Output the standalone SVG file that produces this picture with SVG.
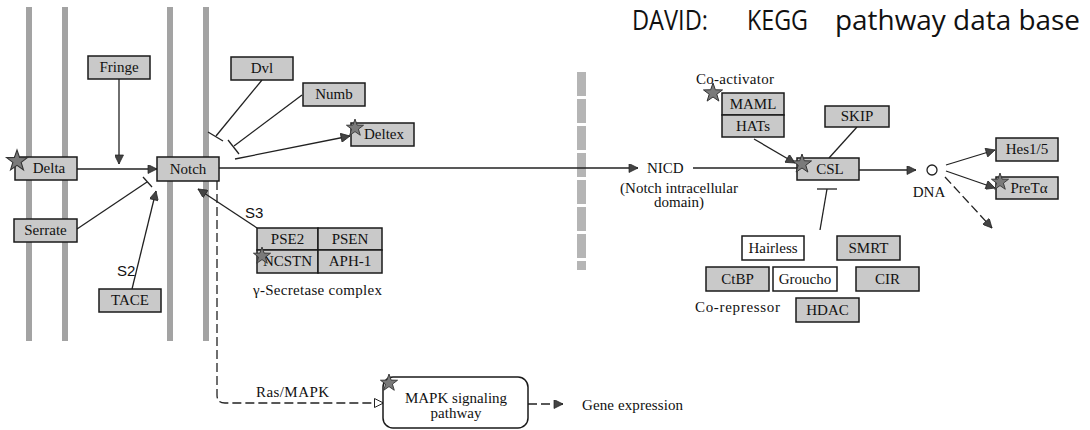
<svg xmlns="http://www.w3.org/2000/svg" width="1090" height="430" viewBox="0 0 1090 430">
  <defs>
    <style>
      .bar { fill: #a3a3a3; }
      .box { fill: #c9c9c9; stroke: #1a1a1a; stroke-width: 1.5; }
      .wbox { fill: #ffffff; stroke: #1a1a1a; stroke-width: 1.5; }
      .lbl { font-family: "Liberation Serif", serif; font-size: 15px; fill: #111; text-anchor: middle; }
      .txt { font-family: "Liberation Serif", serif; font-size: 15px; fill: #111; }
      .sans { font-family: "Liberation Sans", sans-serif; font-size: 15px; fill: #111; }
      .title { font-family: "Open Sans", "Noto Sans", sans-serif; font-size: 27px; fill: #111; }
      .ln { fill: none; stroke: #222; stroke-width: 1.3; }
      .dash { fill: none; stroke: #222; stroke-width: 1.3; stroke-dasharray: 9 4; }
      .star { fill: #7a7a7a; stroke: #333; stroke-width: 1; }
    </style>
    <marker id="arr" viewBox="0 0 10 10" refX="10" refY="5" markerWidth="11" markerHeight="9" markerUnits="userSpaceOnUse" orient="auto">
      <path d="M0,0 L10,5 L0,10 Z" fill="#444" stroke="#222" stroke-width="0.8"/>
    </marker>
    <marker id="open" viewBox="0 0 10 10" refX="10" refY="5" markerWidth="11" markerHeight="10" markerUnits="userSpaceOnUse" orient="auto">
      <path d="M0.5,0.5 L9.5,5 L0.5,9.5 Z" fill="#fff" stroke="#222" stroke-width="1"/>
    </marker>
    <path id="star" d="M0,-10 L2.35,-3.24 L9.51,-3.09 L3.8,1.24 L5.88,8.09 L0,4 L-5.88,8.09 L-3.8,1.24 L-9.51,-3.09 L-2.35,-3.24 Z"/>
  </defs>

  <rect width="1090" height="430" fill="#ffffff"/>

  <!-- membranes -->
  <g id="membranes">
    <rect class="bar" x="26" y="7" width="6" height="334"/>
    <rect class="bar" x="62" y="7" width="6" height="334"/>
    <rect class="bar" x="167" y="7" width="6" height="334"/>
    <rect class="bar" x="203" y="7" width="6" height="334"/>
    <line x1="581.5" y1="72" x2="581.5" y2="270" stroke="#b5b5b5" stroke-width="9" stroke-dasharray="24 3"/>
  </g>

  <!-- title -->
  <text class="title" x="632" y="30" textLength="76" lengthAdjust="spacingAndGlyphs">DAVID:</text>
  <text class="title" x="747" y="30" textLength="61" lengthAdjust="spacingAndGlyphs">KEGG</text>
  <text class="title" x="835" y="30" textLength="245" lengthAdjust="spacingAndGlyphs">pathway data base</text>

  <!-- connectors -->
  <g id="connectors">
    <line class="ln" x1="77" y1="169" x2="157" y2="169" marker-end="url(#arr)"/>
    <line class="ln" x1="119" y1="79" x2="119" y2="164" marker-end="url(#arr)"/>
    <line class="ln" x1="77" y1="229" x2="147" y2="182"/>
    <line class="ln" x1="143" y1="177" x2="152" y2="187"/>
    <line class="ln" x1="132" y1="289" x2="156" y2="191" marker-end="url(#arr)"/>
    <line class="ln" x1="262" y1="80" x2="216" y2="136"/>
    <line class="ln" x1="208" y1="132" x2="223" y2="141"/>
    <line class="ln" x1="302" y1="95" x2="234" y2="146"/>
    <line class="ln" x1="228" y1="140" x2="239" y2="154"/>
    <line class="ln" x1="235" y1="159" x2="350" y2="136" marker-end="url(#arr)"/>
    <line class="ln" x1="219" y1="168" x2="638" y2="168" marker-end="url(#arr)"/>
    <line class="ln" x1="257" y1="228" x2="198" y2="189" marker-end="url(#arr)"/>
    <path class="dash" d="M217,181 L217,395 Q217,403 225,403 L384,403" marker-end="url(#open)"/>
    <line class="ln" x1="693" y1="168" x2="797" y2="168"/>
    <line class="ln" x1="754" y1="139" x2="795" y2="163" marker-end="url(#arr)"/>
    <line class="ln" x1="857" y1="127" x2="829" y2="158"/>
    <line class="ln" x1="859" y1="170" x2="916" y2="170" marker-end="url(#arr)"/>
    <line class="ln" x1="946" y1="165" x2="995" y2="150" marker-end="url(#arr)"/>
    <line class="ln" x1="946" y1="171" x2="995" y2="188" marker-end="url(#arr)"/>
    <line class="dash" x1="945" y1="177" x2="992" y2="228" marker-end="url(#arr)"/>
    <line class="ln" x1="820" y1="230" x2="827" y2="189"/>
    <line class="ln" x1="817" y1="189" x2="837" y2="189"/>
    <line class="dash" x1="528" y1="404" x2="563" y2="404" marker-end="url(#arr)"/>
  </g>

  <!-- receptor side -->
  <g id="fringe"><rect class="box" x="88" y="56" width="62" height="23"/><text class="lbl" x="119" y="72">Fringe</text></g>
  <g id="delta"><rect class="box" x="15" y="157" width="62" height="23"/><text class="lbl" x="49" y="173">Delta</text><use href="#star" class="star" transform="translate(17,161) scale(1.1)"/></g>
  <g id="notch"><rect class="box" x="157" y="157" width="62" height="24"/><text class="lbl" x="188" y="174">Notch</text></g>
  <g id="serrate"><rect class="box" x="14" y="219" width="63" height="23"/><text class="lbl" x="45.5" y="235">Serrate</text></g>
  <g id="tace"><rect class="box" x="99" y="289" width="62" height="23"/><text class="lbl" x="130" y="305">TACE</text></g>
  <g id="dvl"><rect class="box" x="231" y="57" width="62" height="23"/><text class="lbl" x="262" y="73">Dvl</text></g>
  <g id="numb"><rect class="box" x="303" y="83" width="62" height="23"/><text class="lbl" x="334" y="99">Numb</text></g>
  <g id="deltex"><rect class="box" x="351" y="123" width="63" height="23"/><text class="lbl" x="384" y="139">Deltex</text><use href="#star" class="star" transform="translate(355,128) scale(0.9)"/></g>

  <!-- gamma-secretase complex -->
  <g id="secretase">
    <rect class="box" x="257" y="228" width="61" height="22"/><text class="lbl" x="287.5" y="244">PSE2</text>
    <rect class="box" x="318" y="228" width="64" height="22"/><text class="lbl" x="350" y="244">PSEN</text>
    <rect class="box" x="257" y="250" width="61" height="23"/><text class="lbl" x="287.5" y="266">NCSTN</text>
    <rect class="box" x="318" y="250" width="64" height="23"/><text class="lbl" x="350" y="266">APH-1</text>
    <use href="#star" class="star" transform="translate(262,256) scale(0.9)"/>
    <text class="txt" x="253" y="295" textLength="129">γ-Secretase complex</text>
  </g>

  <text class="sans" x="117" y="276">S2</text>
  <text class="sans" x="245" y="218">S3</text>
  <text class="txt" x="256" y="397" textLength="73">Ras/MAPK</text>

  <!-- MAPK pathway -->
  <g id="mapk">
    <rect class="wbox" x="383" y="377" width="145" height="51" rx="10"/>
    <text class="lbl" x="456" y="403">MAPK signaling</text>
    <text class="lbl" x="456" y="418">pathway</text>
    <use href="#star" class="star" transform="translate(389,383) scale(0.9)"/>
  </g>
  <text class="txt" x="582" y="410" textLength="101">Gene expression</text>

  <!-- nucleus side -->
  <g id="nicd">
    <text class="txt" x="647" y="173">NICD</text>
    <text class="lbl" x="679" y="193">(Notch intracellular</text>
    <text class="lbl" x="679" y="207">domain)</text>
  </g>
  <g id="coactivator">
    <text class="txt" x="696" y="84" textLength="78">Co-activator</text>
    <rect class="box" x="722" y="93" width="62" height="22"/><text class="lbl" x="753" y="109">MAML</text>
    <rect class="box" x="722" y="115" width="62" height="22"/><text class="lbl" x="753" y="131">HATs</text>
    <use href="#star" class="star" transform="translate(713,93)"/>
  </g>
  <g id="skip"><rect class="box" x="825" y="106" width="64" height="21"/><text class="lbl" x="857" y="121">SKIP</text></g>
  <g id="csl"><rect class="box" x="797" y="158" width="62" height="22"/><text class="lbl" x="830" y="174">CSL</text><use href="#star" class="star" transform="translate(802,164)"/></g>
  <g id="dna"><circle cx="932" cy="170" r="5" fill="#fff" stroke="#222" stroke-width="1.3"/><text class="lbl" x="929" y="197">DNA</text></g>
  <g id="hes"><rect class="box" x="996" y="138" width="62" height="23"/><text class="lbl" x="1027" y="154">Hes1/5</text></g>
  <g id="pret"><rect class="box" x="996" y="177" width="62" height="22"/><text class="lbl" x="1029" y="193">PreTα</text><use href="#star" class="star" transform="translate(1000,182) scale(0.9)"/></g>

  <!-- co-repressor complex -->
  <g id="corepressor">
    <rect class="wbox" x="742" y="236" width="62" height="24"/><text class="lbl" x="773" y="253">Hairless</text>
    <rect class="box" x="837" y="236" width="63" height="24"/><text class="lbl" x="868.5" y="253">SMRT</text>
    <rect class="box" x="706" y="267" width="63" height="24"/><text class="lbl" x="737.5" y="284">CtBP</text>
    <rect class="wbox" x="773" y="267" width="64" height="24"/><text class="lbl" x="805" y="284">Groucho</text>
    <rect class="box" x="856" y="267" width="63" height="24"/><text class="lbl" x="887.5" y="284">CIR</text>
    <rect class="box" x="796" y="298" width="63" height="24"/><text class="lbl" x="827.5" y="315">HDAC</text>
    <text class="txt" x="695" y="312" textLength="85">Co-repressor</text>
  </g>
</svg>
